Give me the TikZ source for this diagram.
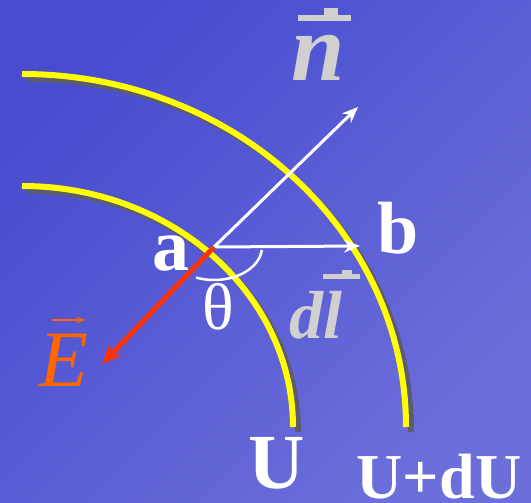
\documentclass[tikz,border=0pt]{standalone}
\usepackage{fontspec}
\setmainfont{Liberation Serif}
\usepackage{xcolor}
\usepackage{tikz}
\usetikzlibrary{arrows.meta}
\definecolor{bgtop}{RGB}{72,76,207}
\definecolor{bgbottom}{RGB}{108,110,218}
\definecolor{lineyellow}{RGB}{255,255,0}
\definecolor{shadowgrey}{RGB}{92,92,108}
\definecolor{fieldred}{RGB}{255,51,0}
\definecolor{fieldorange}{RGB}{255,102,0}
\definecolor{vecgrey}{RGB}{208,208,208}

\begin{document}
\begin{tikzpicture}[x=1pt, y=-1pt,
  equi/.style={draw=lineyellow, line width=6pt},
  equishadow/.style={draw=shadowgrey, line width=6pt},
  arr/.style={-{Stealth[length=16pt, width=13pt]}, line width=3pt, draw=white},
  lbl/.style={text=white, inner sep=0pt, anchor=base, font=\fontsize{74}{80}\selectfont\bfseries},
  vecl/.style={text=vecgrey, inner sep=0pt, anchor=base}]
  \shade[top color=bgtop, bottom color=bgbottom, shading angle=45] (0,0) rectangle (531,503);
  \useasboundingbox (0,0) rectangle (531,503);
  \draw[equishadow] (27,79) arc[start angle=90, end angle=0, x radius=384pt, y radius=353pt];
  \draw[equishadow] (27,191) arc[start angle=90, end angle=0, x radius=271pt, y radius=241pt];
  \draw[equi] (22,74) arc[start angle=90, end angle=0, x radius=384pt, y radius=353pt];
  \draw[equi] (22,186) arc[start angle=90, end angle=0, x radius=271pt, y radius=241pt];
  \coordinate (a) at (214,247);
  \coordinate (ntip) at (358,107);
  \coordinate (btip) at (360,246);
  \coordinate (Etip) at (102,364);
  \draw[arr] (a) -- (ntip);
  \draw[arr] (a) -- (btip);
  \draw[fieldred, line width=5pt, -{Stealth[length=20pt, width=17pt]}] (a) -- (Etip);
  \draw[white, line width=2.5pt] ([shift={(-5:48pt and 33pt)}]a) arc[start angle=-5, end angle=-112, x radius=48pt, y radius=33pt];
  \node[lbl] (alabel) at (171,270) {a};
  \node[lbl] (blabel) at (398,253) {b};
  \node[lbl, font=\fontsize{66}{70}\selectfont] (theta) at (218,329) {θ};
  \node[lbl, font=\fontsize{78}{80}\selectfont\bfseries] (U) at (277,488) {U};
  \node[lbl, font=\fontsize{64}{70}\selectfont\bfseries] (UdU) at (439,498) {U+dU};
  \node[vecl, text=fieldorange, font=\fontsize{80}{84}\selectfont\itshape] (E) at (64,386) {E};
  \draw[fieldorange, line width=2.5pt, -{Stealth[length=9pt, width=7pt]}] (52,320) -- (85,320);
  \node[vecl, font=\fontsize{96}{100}\selectfont\bfseries\itshape] (n) at (318,81) {n};
  \fill[vecgrey] (298,15) rectangle (351,21);
  \fill[vecgrey] (324,8) rectangle (338,15);
  \node[vecl, font=\fontsize{68}{72}\selectfont\bfseries\itshape] (dl) at (316,338) {dl};
  \fill[vecgrey] (323,274) rectangle (360,279);
  \fill[vecgrey] (342,270) rectangle (352,274);
\end{tikzpicture}
\end{document}
